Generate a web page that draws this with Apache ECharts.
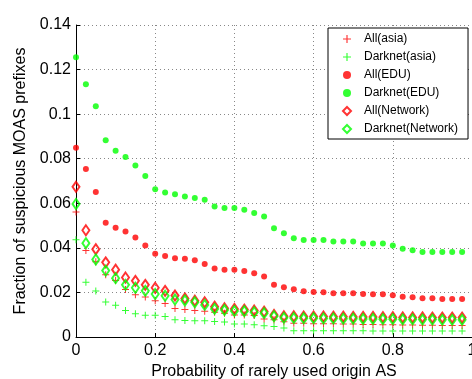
<!DOCTYPE html>
<html>
<head>
<meta charset="utf-8">
<script src="https://cdn.jsdelivr.net/npm/echarts@6/dist/echarts.min.js"></script>
<style>
    html, body { margin: 0; padding: 0; background: #fff; }
    #chart { width: 472px; height: 379px; }
</style>
</head>
<body>
<div id="chart"></div>
<script>
const xValues = [0, 0.025, 0.05, 0.075, 0.1, 0.125, 0.15, 0.175, 0.2, 0.225,
    0.25, 0.275, 0.3, 0.325, 0.35, 0.375, 0.4, 0.425, 0.45, 0.475,
    0.5, 0.525, 0.55, 0.575, 0.6, 0.625, 0.65, 0.675, 0.7, 0.725,
    0.75, 0.775, 0.8, 0.825, 0.85, 0.875, 0.9, 0.925, 0.95, 0.975];

const allAsia = [0.0561, 0.0388, 0.0338, 0.0279, 0.0253, 0.0213, 0.019, 0.0179, 0.0163, 0.015,
    0.0128, 0.0123, 0.0119, 0.0116, 0.0111, 0.0107, 0.0099, 0.0099, 0.0096, 0.0081,
    0.0077, 0.0068, 0.0062, 0.0062, 0.006, 0.006, 0.006, 0.0058, 0.0058, 0.0056,
    0.0056, 0.0055, 0.0055, 0.0054, 0.0054, 0.0053, 0.0053, 0.0052, 0.0052, 0.0052];
const darkAsia = [0.0436, 0.0246, 0.0206, 0.0157, 0.0142, 0.0119, 0.0104, 0.0098, 0.0098, 0.0092,
    0.0077, 0.0074, 0.0073, 0.0073, 0.007, 0.0067, 0.0058, 0.0058, 0.0055, 0.005,
    0.0047, 0.004, 0.0028, 0.0028, 0.0028, 0.0028, 0.0028, 0.0028, 0.0028, 0.0028,
    0.0027, 0.0027, 0.0027, 0.0027, 0.0027, 0.0027, 0.0027, 0.0027, 0.0027, 0.0027];
const allEdu = [0.0849, 0.0754, 0.0651, 0.0513, 0.049, 0.0473, 0.0447, 0.0411, 0.0374, 0.0363,
    0.0353, 0.0351, 0.0344, 0.0328, 0.0307, 0.0302, 0.0302, 0.0296, 0.0286, 0.0272,
    0.0235, 0.0223, 0.0214, 0.0205, 0.0202, 0.0201, 0.0196, 0.0196, 0.0196, 0.0193,
    0.0192, 0.0192, 0.0187, 0.0181, 0.0178, 0.0174, 0.0174, 0.0171, 0.0171, 0.0171];
const darkEdu = [0.1255, 0.1134, 0.1035, 0.0883, 0.0836, 0.0808, 0.0769, 0.0722, 0.0663, 0.0648,
    0.064, 0.0631, 0.0624, 0.0616, 0.0586, 0.0579, 0.0579, 0.0571, 0.0556, 0.0541,
    0.0488, 0.0465, 0.0443, 0.0435, 0.0435, 0.0435, 0.0428, 0.0428, 0.0428, 0.042,
    0.0419, 0.0419, 0.0411, 0.0396, 0.0389, 0.0381, 0.0381, 0.0381, 0.0381, 0.0381];
const allNet = [0.0674, 0.0479, 0.0394, 0.0335, 0.0302, 0.0267, 0.0252, 0.0234, 0.0221, 0.0207,
    0.0186, 0.0173, 0.0163, 0.0156, 0.0136, 0.0129, 0.0126, 0.0123, 0.0119, 0.0114,
    0.0099, 0.0093, 0.0093, 0.0092, 0.0092, 0.0092, 0.0091, 0.0091, 0.009, 0.009,
    0.009, 0.0089, 0.0089, 0.0088, 0.0088, 0.0088, 0.0087, 0.0087, 0.0087, 0.0087];
const darkNet = [0.0597, 0.0421, 0.0348, 0.0298, 0.0264, 0.0234, 0.0221, 0.0207, 0.0193, 0.0185,
    0.0168, 0.0164, 0.0156, 0.0144, 0.0126, 0.0121, 0.0117, 0.0116, 0.0111, 0.0107,
    0.0093, 0.0086, 0.0085, 0.0084, 0.0084, 0.0083, 0.0083, 0.0082, 0.0082, 0.0081,
    0.0081, 0.008, 0.008, 0.0079, 0.0079, 0.0078, 0.0078, 0.0077, 0.0077, 0.0077];

const RED = '#ff0000';
const GREEN = '#00ff00';
const FONT = '"Liberation Sans", Arial, Helvetica, sans-serif';
const PLUS = 'path://M3,0H4V3H7V4H4V7H3V4H0V3H3Z';

const pairs = (ys) => xValues.map((x, i) => [x, ys[i]]);

// marker style per series
const plusSeries = (name, color, ys) => ({
    name, type: 'scatter', data: pairs(ys),
    symbol: PLUS, symbolSize: 7,
    itemStyle: { color }
});
const dotSeries = (name, color, ys) => ({
    name, type: 'scatter', data: pairs(ys),
    symbol: 'circle', symbolSize: 6,
    itemStyle: { color }
});
const diamondSeries = (name, color, ys) => ({
    name, type: 'scatter', data: pairs(ys),
    symbol: 'diamond', symbolSize: [7, 10],
    itemStyle: { color: 'rgba(255,255,255,0)', borderColor: color, borderWidth: 2 }
});

const axisCommon = {
    axisLine: { onZero: false, lineStyle: { color: '#000', width: 1 } },
    axisTick: { inside: true, length: 4, lineStyle: { color: '#000' } },
    axisLabel: { color: '#000', fontSize: 16, fontFamily: FONT },
    splitLine: { show: true, lineStyle: { color: '#888', type: [1, 3], width: 1 } },
    nameLocation: 'middle',
    nameTextStyle: { color: '#000', fontSize: 16, fontFamily: FONT }
};

const chart = echarts.init(document.getElementById('chart'), null, { renderer: 'canvas' });

chart.setOption({
    animation: false,
    backgroundColor: '#fff',
    grid: { left: 76, right: 0, top: 25, bottom: 42, containLabel: false, outerBoundsMode: 'none' },
    xAxis: Object.assign({}, axisCommon, {
        type: 'value', min: 0, max: 1, interval: 0.2,
        name: 'Probability of rarely used origin AS', nameGap: 25,
        axisLabel: Object.assign({}, axisCommon.axisLabel, { margin: 6 })
    }),
    yAxis: Object.assign({}, axisCommon, {
        type: 'value', min: 0, max: 0.14, interval: 0.02,
        name: 'Fraction of suspicious MOAS prefixes', nameGap: 34,
        axisLabel: Object.assign({}, axisCommon.axisLabel, { margin: 5 })
    }),
    legend: {
        orient: 'vertical',
        left: 328, top: 28,
        padding: [5, 10, 4, 14],
        itemWidth: 8, itemHeight: 8, itemGap: 6,
        backgroundColor: '#fff',
        borderColor: '#000', borderWidth: 1,
        textStyle: { color: '#000', fontSize: 12, fontFamily: FONT, padding: [0, 0, 0, 8] },
        data: ['All(asia)', 'Darknet(asia)', 'All(EDU)', 'Darknet(EDU)', 'All(Network)', 'Darknet(Network)']
    },
    series: [
        plusSeries('All(asia)', RED, allAsia),
        plusSeries('Darknet(asia)', GREEN, darkAsia),
        dotSeries('All(EDU)', RED, allEdu),
        dotSeries('Darknet(EDU)', GREEN, darkEdu),
        diamondSeries('All(Network)', RED, allNet),
        diamondSeries('Darknet(Network)', GREEN, darkNet)
    ]
});
</script>
</body>
</html>
